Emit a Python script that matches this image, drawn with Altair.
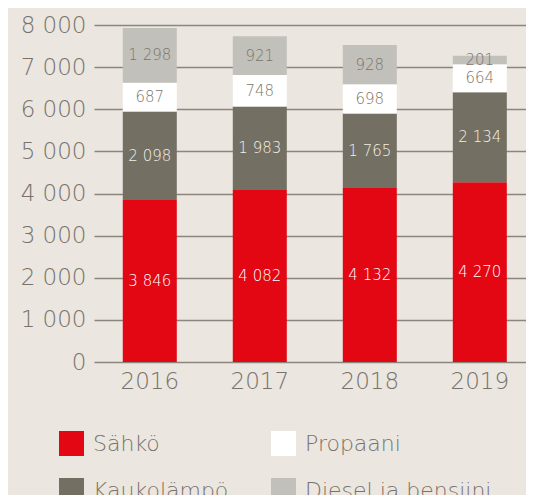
import altair as alt
import pandas as pd

years = ["2016", "2017", "2018", "2019"]
categories = ["Sähkö", "Kaukolämpö", "Propaani", "Diesel ja bensiini"]
sahko = [3846, 4082, 4132, 4270]
kaukolampo = [2098, 1983, 1765, 2134]
propaani = [687, 748, 698, 664]
diesel = [1298, 921, 928, 201]
y_ticks = [0, 1000, 2000, 3000, 4000, 5000, 6000, 7000, 8000]

bar_colors = ["#e30613", "#736f63", "#ffffff", "#c2c0ba"]
label_colors = ["#ffffff", "#f2efea", "#7a766c", "#7a766c"]

series = [sahko, kaukolampo, propaani, diesel]
rows = []
for i, yr in enumerate(years):
    for k, cat in enumerate(categories):
        rows.append({"year": yr, "cat": cat, "value": series[k][i], "order": k})
df = pd.DataFrame(rows)

FONT = "DejaVu Sans"
GREY = "#77736a"

base = alt.Chart(df).transform_stack(
    stack="value", as_=["y0", "y1"], groupby=["year"], sort=[alt.SortField("order")]
).transform_calculate(
    mid="(datum.y0 + datum.y1) / 2",
    label="replace(format(datum.value, ','), ',', ' ')",
)

xenc = alt.X(
    "year:N",
    sort=years,
    scale=alt.Scale(paddingInner=0.509, paddingOuter=0.218, align=0.6),
    axis=alt.Axis(title=None, labelAngle=0, domain=False, ticks=False, grid=False,
                  labelFontSize=23, labelColor=GREY, labelPadding=8, labelFont=FONT,
                  labelFontWeight=300),
)

bars = base.mark_bar().encode(
    x=xenc,
    y=alt.Y("y0:Q", scale=alt.Scale(domain=[0, 8000], nice=False),
            axis=alt.Axis(title=None, values=y_ticks, domain=False, ticks=False,
                          grid=True, gridColor="#8a867c", gridWidth=1.5,
                          labelFontSize=23, labelColor=GREY, labelPadding=8,
                          labelFont=FONT, labelFontWeight=300,
                          labelExpr="replace(format(datum.value, ','), ',', ' ')")),
    y2="y1:Q",
    color=alt.Color("cat:N", scale=alt.Scale(domain=categories, range=bar_colors),
                    legend=alt.Legend(title=None, orient="none", legendX=-35, legendY=406,
                                      columns=2, symbolType="square", symbolSize=625,
                                      symbolStrokeWidth=0, symbolOpacity=1,
                                      labelFontSize=22, labelColor=GREY, labelFont=FONT,
                                      labelFontWeight=300, labelOffset=9,
                                      rowPadding=22, columnPadding=42, labelLimit=300)),
    order=alt.Order("order:Q"),
)

texts = base.mark_text(fontSize=15, font=FONT, fontWeight=300).encode(
    x=alt.X("year:N", sort=years),
    y=alt.Y("mid:Q"),
    text="label:N",
    color=alt.Color("cat:N", scale=alt.Scale(domain=categories, range=label_colors), legend=None),
)

chart = alt.layer(bars, texts).resolve_scale(color="independent").properties(
    width=432, height=337,
    background="#ebe6e0",
    padding={"left": 86, "top": 17, "right": 0, "bottom": 133},
    autosize=alt.AutoSizeParams(type="none"),
).configure_view(stroke=None)

chart.save("out.html", embed_options={"renderer": "svg", "actions": False})
